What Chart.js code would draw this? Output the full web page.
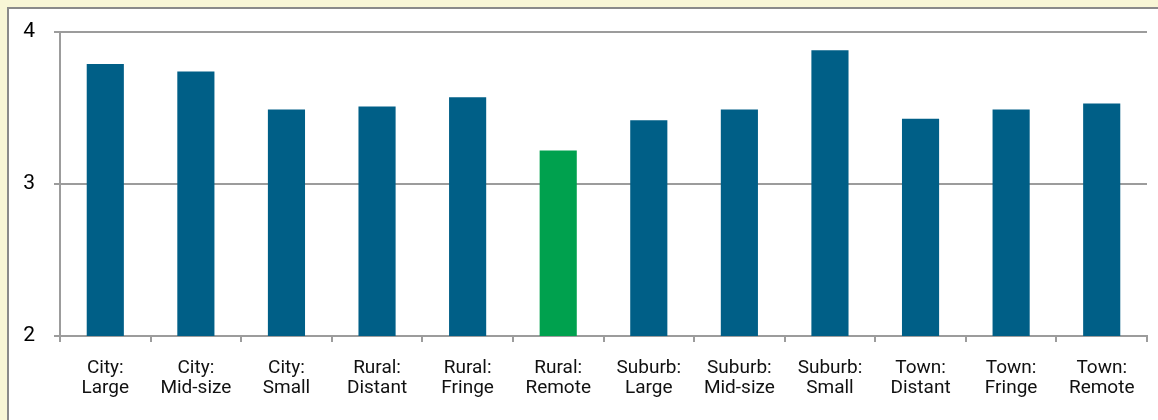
<!DOCTYPE html>
<html>
<head>
<meta charset="utf-8">
<script src="https://cdn.jsdelivr.net/npm/chart.js@4/dist/chart.umd.min.js"></script>
<style>
  html, body { margin: 0; padding: 0; }
  body { width: 1158px; height: 420px; background: #f8f6d6; position: relative; overflow: hidden; }
  .frame { position: absolute; left: 7px; top: 7px; right: 0; bottom: 0; background: #fff;
           border-left: 2px solid #8a8a8a; border-top: 2px solid #8a8a8a; }
  #localeChart { position: absolute; left: 0; top: 0; }
</style>
</head>
<body>
<div class="frame"></div>
<canvas id="localeChart" width="1158" height="420"></canvas>
<script>
// Categorias e valores médios por tipo de localidade
const categorias = [
    ['City:', 'Large'], ['City:', 'Mid-size'], ['City:', 'Small'],
    ['Rural:', 'Distant'], ['Rural:', 'Fringe'], ['Rural:', 'Remote'],
    ['Suburb:', 'Large'], ['Suburb:', 'Mid-size'], ['Suburb:', 'Small'],
    ['Town:', 'Distant'], ['Town:', 'Fringe'], ['Town:', 'Remote']
];
const valores = [3.79, 3.74, 3.49, 3.51, 3.57, 3.22, 3.42, 3.49, 3.88, 3.43, 3.49, 3.53];
const destaque = 'Rural: Remote';
const ticksY = [2, 3, 4];

const azul = '#005f87';
const verde = '#00a14e';
const cinza = '#9c9c9c';

const cores = categorias.map(c => c.join(' ') === destaque ? verde : azul);

window.addEventListener('DOMContentLoaded', () => {
    const ctx = document.getElementById('localeChart').getContext('2d');

    new Chart(ctx, {
        type: 'bar',
        data: {
            labels: categorias,
            datasets: [{
                data: valores,
                backgroundColor: cores,
                borderWidth: 0,
                barPercentage: 0.41,
                categoryPercentage: 1
            }]
        },
        options: {
            responsive: false,
            animation: false,
            layout: { padding: { top: 32, right: 11, left: 0, bottom: 0 } },
            plugins: {
                legend: { display: false },
                tooltip: { enabled: false }
            },
            scales: {
                x: {
                    grid: { offset: true, drawOnChartArea: false, drawTicks: true, tickLength: 6, color: cinza, lineWidth: 2 },
                    border: { color: cinza, width: 2 },
                    ticks: {
                        color: '#111',
                        padding: 16,
                        maxRotation: 0,
                        autoSkip: false,
                        font: { family: 'Roboto', size: 19, lineHeight: 1.05 }
                    },
                    afterFit: scale => { scale.height = 84; }
                },
                y: {
                    min: ticksY[0],
                    max: ticksY[ticksY.length - 1],
                    afterBuildTicks: scale => { scale.ticks = ticksY.map(v => ({ value: v })); },
                    grid: { color: cinza, lineWidth: 2, tickLength: 6 },
                    border: { color: cinza, width: 2 },
                    ticks: {
                        color: '#000',
                        padding: 19,
                        font: { family: 'Roboto', size: 21 }
                    },
                    afterFit: scale => { scale.width = 60; }
                }
            }
        }
    });
});
</script>
</body>
</html>
